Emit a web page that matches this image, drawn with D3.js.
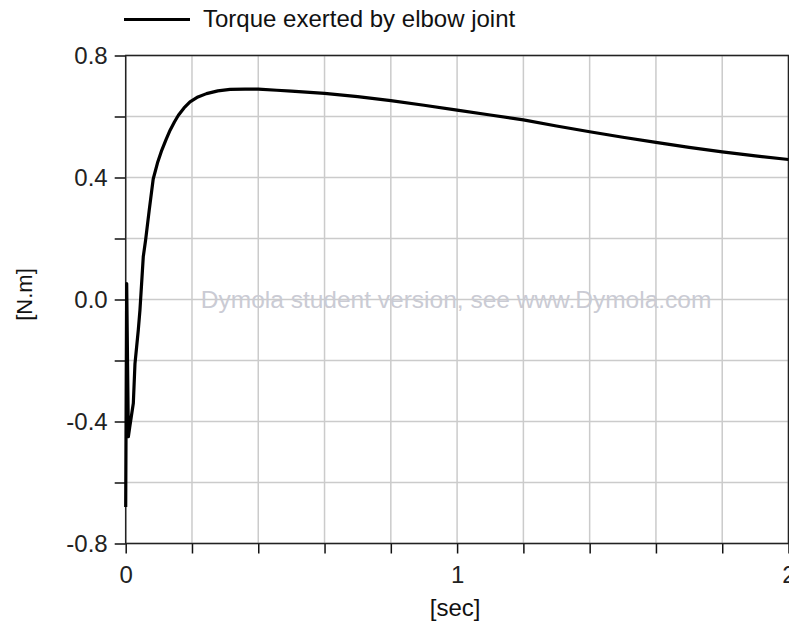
<!DOCTYPE html>
<html>
<head>
<meta charset="utf-8">
<script src="https://cdn.jsdelivr.net/npm/d3@7"></script>
<style>
  body { margin: 0; background: #fff; }
  svg { display: block; font-family: Arial, "Liberation Sans", sans-serif; }
</style>
</head>
<body>
<div id="chart"></div>
<script>
// Data
const timeSec = [0, 0.003, 0.008, 0.012, 0.023, 0.028, 0.038, 0.043, 0.048, 0.053, 0.06, 0.071, 0.083,
  0.096, 0.109, 0.122, 0.134, 0.147, 0.159, 0.176, 0.194, 0.218, 0.244, 0.278, 0.315, 0.36, 0.4, 0.456,
  0.5, 0.6, 0.7, 0.8, 0.9, 1.0, 1.1, 1.2, 1.3, 1.4, 1.5, 1.6, 1.7, 1.8, 1.9, 2.0];
const torque = [-0.68, 0.052, -0.45, -0.42, -0.34, -0.21, -0.10, -0.035, 0.052, 0.14, 0.194, 0.293, 0.395,
  0.448, 0.49, 0.525, 0.555, 0.582, 0.604, 0.628, 0.648, 0.664, 0.675, 0.684, 0.689, 0.69, 0.69, 0.686,
  0.683, 0.676, 0.665, 0.652, 0.637, 0.621, 0.605, 0.589, 0.569, 0.55, 0.532, 0.515, 0.499, 0.484, 0.471, 0.459];

const xTickValues = [0, 0.2, 0.4, 0.6, 0.8, 1.0, 1.2, 1.4, 1.6, 1.8, 2.0];
const xTickLabels = [0, 1, 2];
const yTickValues = [-0.8, -0.6, -0.4, -0.2, 0, 0.2, 0.4, 0.6, 0.8];
const yTickLabels = [-0.8, -0.4, 0, 0.4, 0.8];

const seriesName = "Torque exerted by elbow joint";
const xTitle = "[sec]";
const yTitle = "[N.m]";
const watermark = "Dymola student version, see www.Dymola.com";

// Layout
const width = 789;
const height = 622;
const margin = { top: 55.5, right: 0.5, bottom: 78.5, left: 125.7 };
const innerW = width - margin.left - margin.right;
const innerH = height - margin.top - margin.bottom;

const svg = d3.select("#chart")
  .append("svg")
  .attr("width", width)
  .attr("height", height);

const g = svg.append("g")
  .attr("transform", `translate(${margin.left}, ${margin.top})`);

const x = d3.scaleLinear().domain([0, 2]).range([0, innerW]);
const y = d3.scaleLinear().domain([-0.8, 0.8]).range([innerH, 0]);

// Grid
g.append("g")
  .selectAll("line")
  .data(xTickValues)
  .join("line")
  .attr("x1", d => x(d)).attr("x2", d => x(d))
  .attr("y1", 0).attr("y2", innerH)
  .attr("stroke", "#cbcbcb")
  .attr("stroke-width", 1.5);

g.append("g")
  .selectAll("line")
  .data(yTickValues)
  .join("line")
  .attr("x1", 0).attr("x2", innerW)
  .attr("y1", d => y(d)).attr("y2", d => y(d))
  .attr("stroke", "#cbcbcb")
  .attr("stroke-width", 1.5);

// Watermark
g.append("text")
  .attr("x", innerW / 2 - 1)
  .attr("y", y(0) + 8)
  .attr("text-anchor", "middle")
  .attr("font-size", 24.5)
  .attr("fill", "#cacbd4")
  .text(watermark);

// Axes (plain hyphen for negatives, like the reference)
const fmt1 = d => d3.format(".1f")(d).replace("\u2212", "-");

const xAxis = g.append("g")
  .attr("transform", `translate(0, ${innerH})`)
  .call(d3.axisBottom(x)
    .tickValues(xTickValues)
    .tickSize(10)
    .tickPadding(12)
    .tickFormat(d => xTickLabels.includes(d) ? String(d) : ""));

const yAxis = g.append("g")
  .call(d3.axisLeft(y)
    .tickValues(yTickValues)
    .tickSize(11)
    .tickPadding(7)
    .tickFormat(d => yTickLabels.some(v => Math.abs(v - d) < 1e-9) ? fmt1(d) : ""));

[xAxis, yAxis].forEach(a => {
  a.select(".domain").remove();
  a.selectAll(".tick line").attr("stroke", "#111").attr("stroke-width", 1.5);
  a.selectAll(".tick text").attr("font-size", 24).attr("fill", "#222")
    .attr("font-family", "Arial, 'Liberation Sans', sans-serif");
});

// Frame
g.append("rect")
  .attr("x", 0).attr("y", 0)
  .attr("width", innerW).attr("height", innerH)
  .attr("fill", "none")
  .attr("stroke", "#222")
  .attr("stroke-width", 1.5);

// Curve
const line = d3.line()
  .x((d, i) => x(timeSec[i]))
  .y(d => y(d));

g.append("path")
  .datum(torque)
  .attr("fill", "none")
  .attr("stroke", "#000")
  .attr("stroke-width", 3.2)
  .attr("stroke-linejoin", "round")
  .attr("d", line);

// Axis titles
svg.append("text")
  .attr("x", margin.left + innerW / 2 - 2)
  .attr("y", 616)
  .attr("text-anchor", "middle")
  .attr("font-size", 24)
  .attr("fill", "#111")
  .text(xTitle);

svg.append("text")
  .attr("transform", `translate(32, ${margin.top + innerH / 2 - 5}) rotate(-90)`)
  .attr("text-anchor", "middle")
  .attr("font-size", 22)
  .attr("fill", "#111")
  .text(yTitle);

// Legend
svg.append("line")
  .attr("x1", 124).attr("x2", 190)
  .attr("y1", 19.5).attr("y2", 19.5)
  .attr("stroke", "#000")
  .attr("stroke-width", 3.2);

svg.append("text")
  .attr("x", 203)
  .attr("y", 27)
  .attr("font-size", 24)
  .attr("fill", "#111")
  .text(seriesName);
</script>
</body>
</html>
